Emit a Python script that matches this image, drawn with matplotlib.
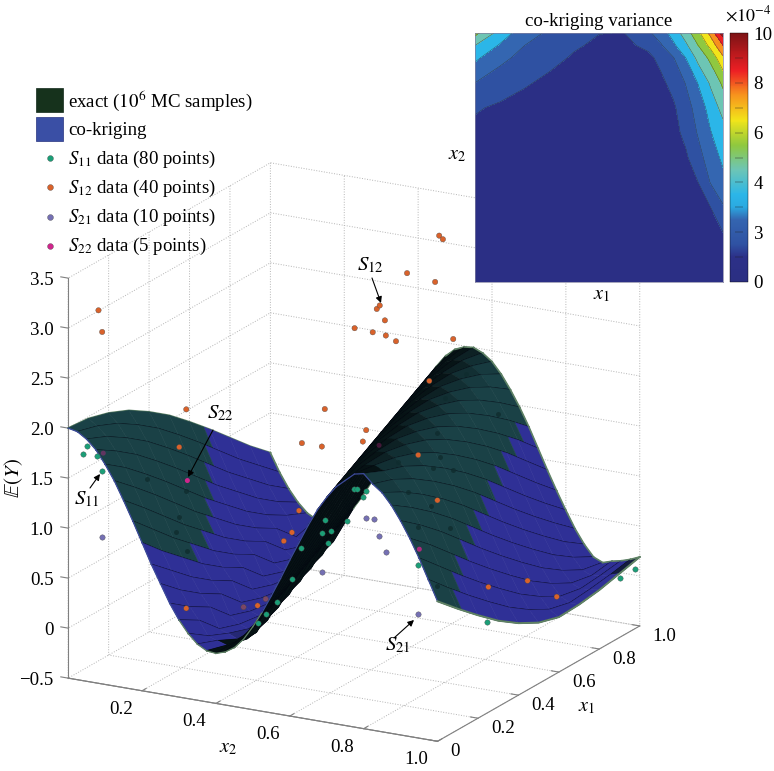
import numpy as np
import matplotlib
matplotlib.use("Agg")
import matplotlib.pyplot as plt
from matplotlib.colors import LinearSegmentedColormap, Normalize, to_rgb, to_rgba
from matplotlib.cm import ScalarMappable
from matplotlib.patches import Rectangle
from matplotlib.ticker import NullFormatter
from mpl_toolkits.mplot3d import proj3d
from mpl_toolkits.mplot3d.art3d import Poly3DCollection

plt.rcParams['font.family'] = 'Liberation Serif'
plt.rcParams['mathtext.fontset'] = 'stix'
plt.rcParams['grid.color'] = '#b4b4b4'
plt.rcParams['grid.linestyle'] = ':'
plt.rcParams['grid.linewidth'] = 0.7

# surface E(Y), rows are x2 = 0 ... 1, columns are x1 = 0 ... 1
x1_grid = np.linspace(0, 1, 11)
x2_grid = np.linspace(0, 1, 41)
z_surface = np.array([
    [2.00, 1.98, 1.92, 1.83, 1.70, 1.55, 1.37, 1.18, 0.98, 0.78, 0.60],
    [1.98, 1.92, 1.83, 1.70, 1.55, 1.37, 1.18, 0.98, 0.78, 0.60, 0.42],
    [1.92, 1.83, 1.70, 1.55, 1.37, 1.18, 0.98, 0.78, 0.60, 0.42, 0.27],
    [1.83, 1.70, 1.55, 1.37, 1.18, 0.98, 0.78, 0.60, 0.42, 0.27, 0.15],
    [1.70, 1.55, 1.37, 1.18, 0.98, 0.78, 0.60, 0.42, 0.27, 0.15, 0.06],
    [1.55, 1.37, 1.18, 0.98, 0.78, 0.60, 0.42, 0.27, 0.15, -0.05, 0.01],
    [1.37, 1.18, 0.98, 0.78, 0.60, 0.42, 0.27, 0.15, -0.05, -0.12, 0.00],
    [1.18, 0.98, 0.78, 0.60, 0.42, 0.27, 0.15, -0.05, -0.12, -0.15, 0.03],
    [0.98, 0.78, 0.60, 0.42, 0.27, 0.15, -0.05, -0.12, -0.15, -0.12, 0.09],
    [0.78, 0.60, 0.42, 0.27, 0.15, -0.05, -0.12, -0.15, -0.12, -0.03, 0.19],
    [0.60, 0.42, 0.27, 0.15, -0.05, -0.12, -0.15, -0.12, -0.03, 0.19, 0.33],
    [0.42, 0.27, 0.15, -0.05, -0.12, -0.15, -0.12, -0.03, 0.19, 0.33, 0.49],
    [0.27, 0.15, -0.05, -0.12, -0.15, -0.12, -0.03, 0.19, 0.33, 0.49, 0.67],
    [0.15, 0.01, -0.08, -0.15, -0.12, -0.03, 0.19, 0.33, 0.49, 0.67, 0.86],
    [0.06, -0.02, -0.12, -0.12, -0.03, 0.19, 0.33, 0.49, 0.67, 0.86, 1.06],
    [0.01, -0.05, -0.10, -0.03, 0.19, 0.33, 0.49, 0.67, 0.86, 1.06, 1.25],
    [0.00, 0.00, -0.02, 0.19, 0.33, 0.49, 0.67, 0.86, 1.06, 1.25, 1.44],
    [0.03, 0.09, 0.19, 0.33, 0.49, 0.67, 0.86, 1.06, 1.25, 1.44, 1.61],
    [0.09, 0.19, 0.33, 0.49, 0.67, 0.86, 1.06, 1.25, 1.44, 1.61, 1.75],
    [0.19, 0.33, 0.49, 0.67, 0.86, 1.06, 1.25, 1.44, 1.61, 1.75, 1.87],
    [0.33, 0.49, 0.67, 0.86, 1.06, 1.25, 1.44, 1.61, 1.75, 1.87, 1.95],
    [0.49, 0.67, 0.86, 1.06, 1.25, 1.44, 1.61, 1.75, 1.87, 1.95, 1.99],
    [0.67, 0.86, 1.06, 1.25, 1.44, 1.61, 1.75, 1.87, 1.95, 1.99, 2.00],
    [0.86, 1.06, 1.25, 1.44, 1.61, 1.75, 1.87, 1.95, 1.99, 2.00, 1.96],
    [1.06, 1.25, 1.44, 1.61, 1.75, 1.87, 1.95, 1.99, 2.00, 1.96, 1.89],
    [1.25, 1.44, 1.61, 1.75, 1.87, 1.95, 1.99, 2.00, 1.96, 1.89, 1.78],
    [1.44, 1.61, 1.75, 1.87, 1.95, 1.99, 2.00, 1.96, 1.89, 1.78, 1.64],
    [1.61, 1.75, 1.87, 1.95, 1.99, 2.00, 1.96, 1.89, 1.78, 1.64, 1.48],
    [1.75, 1.87, 1.95, 1.99, 2.00, 1.96, 1.89, 1.78, 1.64, 1.48, 1.30],
    [1.87, 1.95, 1.99, 2.00, 1.96, 1.89, 1.78, 1.64, 1.48, 1.30, 1.10],
    [1.95, 1.99, 2.00, 1.96, 1.89, 1.78, 1.64, 1.48, 1.30, 1.10, 0.90],
    [2.03, 2.00, 1.96, 1.89, 1.78, 1.64, 1.48, 1.30, 1.10, 0.90, 0.71],
    [2.05, 1.96, 1.89, 1.78, 1.64, 1.48, 1.30, 1.10, 0.90, 0.71, 0.53],
    [1.96, 1.89, 1.78, 1.64, 1.48, 1.30, 1.10, 0.90, 0.71, 0.53, 0.36],
    [1.89, 1.78, 1.64, 1.48, 1.30, 1.10, 0.90, 0.71, 0.53, 0.36, 0.22],
    [1.78, 1.64, 1.48, 1.30, 1.10, 0.90, 0.71, 0.53, 0.36, 0.22, 0.11],
    [1.64, 1.48, 1.30, 1.10, 0.90, 0.71, 0.53, 0.36, 0.22, 0.11, 0.07],
    [1.48, 1.30, 1.10, 0.90, 0.71, 0.53, 0.36, 0.22, 0.11, 0.07, 0.10],
    [1.30, 1.10, 0.90, 0.71, 0.53, 0.36, 0.22, 0.11, 0.07, 0.09, 0.12],
    [1.10, 0.90, 0.71, 0.53, 0.36, 0.22, 0.11, 0.06, 0.08, 0.11, 0.15],
    [0.90, 0.71, 0.53, 0.36, 0.22, 0.11, 0.05, 0.06, 0.09, 0.14, 0.19],
])

# how far along x1 the exact surface shows through, one value per x2 strip
exact_on_top = [0.67, 0.63, 0.58, 0.54, 0.49, 0.45, 0.38, 0.28,
                0, 0, 0, 0, 0, 0, 0, 0, 0, 0, 0, 0,
                1, 1, 1, 1, 1, 1, 1, 1, 0.93, 0.85, 0.77, 0.69,
                0.61, 0.53, 0.45, 0.37, 0.29, 0.22, 0.16, 0.12]

# data points
s11_x1 = [0, 0, 0, 0, .5, .5, .5, .5, .5, .5, .5, .5, .5, .5, .5, .5, .5, .5, .5, .5, .9, 1]
s11_x2 = [.041, .052, .079, .092, .5, .508, .533, .524, .481, .421, .413, .4375, .429,
          .356, .332, .291, .261, .239, .674, .861, 1.0, .986]
s11_z = [1.77, 1.85, 1.77, 1.63, 1.13, 1.14, 1.13, 1.07, .80, .77, .64, .67, .55,
         .45, .12, -.13, -.27, -.375, .48, .03, .09, .06]

# S11 points that only show as dark spots through the surface
s11b_x1 = [.1, .5, .5, .5, .5, .5, .5, .5, .5, .5, .5, .5, .5, .5, .5, .5, .5, .5]
s11b_x2 = [.159, .046, .027, .019, .049, .802, .747, .889, .726, .734, .769, .715, .62,
           .647, .709, .761, .674, .726]
s11b_z = [1.48, .82, .55, .40, .23, 2.47, 2.20, 2.13, 1.83, 1.60, 1.49, 1.48, 1.48,
          1.19, 1.09, .91, .86, .30]

s12_x1 = [0, 0, 1, 1, 1, 1, 1, 1, 1, 1, 1, 1, 1, 1,
          .5, .5, .5, .5, .5, .5, .5, .5, .5, .5, .5, .5, .5, .5, .5, .5, .5, .5, .5, .9]
s12_x2 = [.082, .092, .457, .467, .37, .446, .296, .288, .31, .228, .277, .3125, .34, .495,
          .046, .421, .533, .524, .359, .413, .027, .351, .332, .31, .046, .239,
          .704, .674, .726, .864, .97, .201, .261, .83]
s12_z = [3.23, 3.02, 3.06, 3.03, 2.63, 2.59, 2.26, 2.22, 2.12, 1.99, 1.98, 1.97, 1.93, 2.05,
         1.64, 1.88, 1.74, 1.62, 1.50, 1.50, 1.25, .82, .59, .49, -.35, -.20,
         2.34, 1.58, 1.16, .38, .51, -.24, -.12, -.20]
s12_alpha = [1] * 31 + [.45, .45, 1]

s21_x1 = [0, .5, .5, .5, .5, .5, .5]
s21_x2 = [.092, .533, .554, .568, .587, .413, .674]
s21_z = [.97, .86, .86, .70, .56, .25, -.01]

s22_x1 = [.5, 0, .5, .5]
s22_x2 = [.049, .095, .568, .677]
s22_z = [.93, 1.81, 1.61, .64]
s22_alpha = [1, .4, .3, .8]

x2_ticks = [.2, .4, .6, .8, 1.0]
x1_ticks = [0, .2, .4, .6, .8, 1.0]
z_ticks = [-.5, 0, .5, 1, 1.5, 2, 2.5, 3, 3.5]
x2_labels = ['0.2', '0.4', '0.6', '0.8', '1.0']
x1_labels = ['0', '0.2', '0.4', '0.6', '0.8', '1.0']
z_labels = ['\u22120.5', '0', '0.5', '1.0', '1.5', '2.0', '2.5', '3.0', '3.5']

# inset, variance in units of 1e-4
var_u = [0, .1, .2, .3, .4, .5, .6, .7, .75, .8, .85, .9, .95, 1]
var_v = [0, .2, .3, .4, .5, .6, .7, .8, .9, .95, 1]
variance = np.array([
    [.2, .2, .15, .1, .1, .05, .05, .1, .1, .15, .2, .25, .4, .6],
    [.25, .2, .2, .15, .1, .1, .1, .1, .15, .2, .3, .45, .7, 1.0],
    [.3, .3, .25, .2, .15, .1, .1, .15, .2, .3, .45, .7, 1.0, 1.9],
    [.4, .35, .3, .25, .2, .15, .15, .2, .25, .4, .6, 1.0, 2.05, 2.7],
    [.5, .45, .4, .3, .25, .2, .2, .25, .35, .55, .85, 1.65, 2.5, 3.2],
    [.75, .6, .5, .4, .3, .25, .25, .3, .45, .7, 1.25, 2.1, 2.95, 3.6],
    [1.1, .85, .65, .5, .4, .3, .3, .4, .55, .85, 1.6, 2.4, 3.4, 4.35],
    [2.0, 1.5, 1.1, .8, .6, .5, .4, .55, .8, 1.3, 2.05, 3.05, 4.15, 5.2],
    [3.2, 2.25, 1.7, 1.25, .9, .7, .6, .8, 1.25, 1.95, 3.0, 4.3, 5.25, 6.8],
    [4.0, 2.9, 2.0, 1.55, 1.1, .85, .8, 1.2, 1.9, 2.8, 3.8, 5.0, 6.3, 8.0],
    [5.3, 3.6, 2.4, 1.85, 1.4, 1.02, .98, 1.85, 2.5, 3.4, 4.5, 5.75, 7.3, 9.5],
])
var_levels = [0, 1, 2, 3, 4, 5, 6, 7, 8, 9, 10]
cbar_ticks = [0, 2, 4, 6, 8, 10]
cbar_labels = ['0', '3', '4', '6', '8', '10']

legend_labels = [r'exact ($10^{6}$ MC samples)', 'co-kriging',
                 r'$S_{11}$ data (80 points)', r'$S_{12}$ data (40 points)',
                 r'$S_{21}$ data (10 points)', r'$S_{22}$ data (5 points)']
c_s11, c_s12, c_s21, c_s22 = '#1b9e77', '#d9622b', '#7570b3', '#d0258c'

blue = np.array(to_rgb('#2f3096'))
green = np.array(to_rgb('#1a4146'))
under = np.array(to_rgb('#061214'))
rim = '#5f8265'
font_size = 13.6

fig = plt.figure(figsize=(7.74, 7.71), dpi=100)
fig.patch.set_facecolor('white')

ax = fig.add_axes([-9.6 / 774, -44.6 / 771, 708 / 774, 708 / 771], projection='3d',
                  computed_zorder=False, proj_type='ortho')
elev, azim = 18.2, -61.3
ax.view_init(elev=elev, azim=azim)
ax.set_box_aspect((1, 1, 1))
ax.set_xlim(0, 1, view_margin=0)
ax.set_ylim(0, 1, view_margin=0)
ax.set_zlim(-.5, 3.5, view_margin=0)
ax.patch.set_alpha(0)

ax.set_xticks(x2_ticks)
ax.set_yticks(x1_ticks)
ax.set_zticks(z_ticks)
ax.zaxis._axinfo['juggled'] = (1, 0, 2)
for axis in (ax.xaxis, ax.yaxis, ax.zaxis):
    axis.set_major_formatter(NullFormatter())
    axis.set_pane_color((1, 1, 1, 0))
    axis.pane.set_edgecolor((1, 1, 1, 0))
    axis.line.set_color('#808080')
    axis.line.set_linewidth(0.8)
    axis._axinfo['tick']['inward_factor'] = 0
    axis._axinfo['tick']['outward_factor'] = 0.25
ax.tick_params(color='#808080', width=0.6)
ax.plot([0, 0], [0, 0], [-.5, 3.5], color='#808080', lw=0.8, zorder=-1)

# Camera direction, a cell seen from below shows the dark underside
cam = np.array([np.cos(np.radians(elev)) * np.cos(np.radians(azim)),
                np.cos(np.radians(elev)) * np.sin(np.radians(azim)),
                np.sin(np.radians(elev))])
dx2 = x2_grid[1] - x2_grid[0]
dx1 = x1_grid[1] - x1_grid[0]

# Rays through the surface run monotonic in x2, so painting the strips in x2 order hides correctly
ax.plot(x2_grid[0] * np.ones(11), x1_grid, z_surface[0], color=rim, lw=1.4, zorder=0)
for k in range(len(x2_grid) - 1):
    verts = []
    colors = []
    limit = exact_on_top[k]
    for j in range(len(x1_grid) - 1):
        a, b = x1_grid[j], x1_grid[j + 1]
        z00, z01 = z_surface[k, j], z_surface[k, j + 1]
        z10, z11 = z_surface[k + 1, j], z_surface[k + 1, j + 1]
        slope_x2 = (z10 + z11 - z00 - z01) / (2 * dx2)
        slope_x1 = (z01 + z11 - z00 - z10) / (2 * dx1)
        facing = -slope_x2 * cam[0] - slope_x1 * cam[1] + cam[2]
        # faces near the right ridge darken, the mesh packs tight there
        near_ridge = k >= 20 and (z00 + z01 + z10 + z11) / 4 > 1.2
        fade = np.clip(facing / (1.4 if near_ridge else 0.15), 0, 1)
        # a cell crossed by the exact/co-kriging boundary is cut in two
        cuts = [(a, b, limit >= b - 1e-6)]
        if a < limit < b:
            cuts = [(a, limit, True), (limit, b, False)]
        for p, q, on_top in cuts:
            tp, tq = (p - a) / dx1, (q - a) / dx1
            verts.append([(x2_grid[k], p, z00 + tp * (z01 - z00)),
                          (x2_grid[k], q, z00 + tq * (z01 - z00)),
                          (x2_grid[k + 1], q, z10 + tq * (z11 - z10)),
                          (x2_grid[k + 1], p, z10 + tp * (z11 - z10))])
            base = green if on_top else blue
            colors.append(tuple(under * (1 - fade) + base * fade))
    strip = Poly3DCollection(verts, facecolors=colors, edgecolors=colors, linewidths=0.4, zorder=k + 1)
    ax.add_collection3d(strip)
    ax.plot(x2_grid[k + 1] * np.ones(11), x1_grid, z_surface[k + 1], color='#03030f', lw=0.9, zorder=k + 1.3)
    edge_front = rim if 12 <= k <= 20 else '#3c4a9a'
    ax.plot(x2_grid[k:k + 2], [0, 0], z_surface[k:k + 2, 0], color=edge_front, lw=0.9, zorder=k + 1.5)
    ax.plot(x2_grid[k:k + 2], [1, 1], z_surface[k:k + 2, 10], color=rim, lw=1.2, zorder=k + 1.5)
ax.plot(x2_grid[-1] * np.ones(11), x1_grid, z_surface[-1], color=rim, lw=1.4, zorder=60)

ax.scatter(s11b_x2, s11b_x1, s11b_z, s=13, c='#0f2c2e', alpha=0.8, linewidths=0, depthshade=False, zorder=90)
ax.scatter(s11_x2, s11_x1, s11_z, s=15, c=c_s11, edgecolors='#444444', linewidths=0.25, depthshade=False, zorder=100)
ax.scatter(s12_x2, s12_x1, s12_z, s=15, c=[to_rgba(c_s12, a) for a in s12_alpha], edgecolors='#444444',
           linewidths=0.25, depthshade=False, zorder=100)
ax.scatter(s21_x2, s21_x1, s21_z, s=15, c=c_s21, edgecolors='#444444', linewidths=0.25, depthshade=False, zorder=100)
ax.scatter(s22_x2, s22_x1, s22_z, s=13, c=[to_rgba(c_s22, a) for a in s22_alpha], edgecolors='none',
           linewidths=0, depthshade=False, zorder=100)


def box_text(x, y, z, label, **kwargs):
    # tick labels sit just off the box, placed through the 3D projection
    px, py, _ = proj3d.proj_transform(x, y, z, ax.get_proj())
    ax.text2D(px, py, label, transform=ax.transData, va='center', fontsize=font_size, zorder=120, **kwargs)


for v, t in zip(x2_ticks, x2_labels):
    box_text(v + .005, -.115, -.55, t, ha='center')
for v, t in zip(x1_ticks, x1_labels):
    box_text(1.035, v, -.58, t, ha='left')
for v, t in zip(z_ticks, z_labels):
    box_text(-.04, 0, v - .05, t, ha='right')

# overlay in figure pixels for legend, labels and callouts
over = fig.add_axes([0, 0, 1, 1])
over.set_xlim(0, 774)
over.set_ylim(771, 0)
over.axis('off')

over.add_patch(Rectangle((36, 88), 27, 24, facecolor='#16321c', edgecolor='#10281a', lw=0.5))
over.add_patch(Rectangle((36, 117), 27, 24, facecolor='#3a4fa5', edgecolor='#26327f', lw=0.5))
for y, c in zip([158, 187, 217, 246], [c_s11, c_s12, c_s21, c_s22]):
    over.plot([50], [y], 'o', ms=4.2, color=c, mec='#444444', mew=0.25)
for y, t in zip([107, 135, 164, 193, 222, 251], legend_labels):
    over.text(68, y, t, fontsize=font_size, ha='left', va='baseline')

over.text(228, 748, r'$x_2$', fontsize=font_size + 1, ha='center', va='center')
over.text(587, 707, r'$x_1$', fontsize=font_size + 1, ha='center', va='center')
over.text(14, 478, r'$\mathbb{E}(Y)$', fontsize=font_size + 1.5, rotation=90, ha='center', va='center')
over.text(602, 295, r'$x_1$', fontsize=font_size + 1, ha='center', va='center')
over.text(457, 155, r'$x_2$', fontsize=font_size + 1, ha='center', va='center')
over.text(748, 15, r'$\times 10^{-4}$', fontsize=13, ha='center', va='center')

callouts = [(r'$S_{12}$', (370, 265), (372, 278), (381, 303)),
            (r'$S_{22}$', (220, 413), (213, 430), (188, 477)),
            (r'$S_{11}$', (87, 499), (90, 488), (100, 474)),
            (r'$S_{21}$', (398, 645), (394, 638), (414, 620))]
for name, text_at, tail, head in callouts:
    over.text(*text_at, name, fontsize=font_size + 1.5, ha='center', va='center')
    over.annotate('', xy=head, xytext=tail,
                  arrowprops=dict(arrowstyle='-|>', color='black', lw=0.8, mutation_scale=9,
                                  shrinkA=0, shrinkB=0))

# inset
var_cmap = LinearSegmentedColormap.from_list('var', [
    (0, '#2b2f82'), (.1, '#2c3088'), (.15, '#2f52a3'), (.25, '#3465b0'), (.3, '#2ba9e1'),
    (.35, '#2bb6e8'), (.45, '#6dc5b5'), (.55, '#8fc83f'), (.65, '#f2e51a'), (.75, '#f7941d'),
    (.85, '#ed1f24'), (1, '#7d1315')])
ins = fig.add_axes([475 / 774, 1 - 282 / 771, 248 / 774, 249 / 771])
ins.contourf(var_u, var_v, variance, levels=var_levels, cmap=var_cmap, vmin=0, vmax=10)
ins.contour(var_u, var_v, variance, levels=var_levels[1:-1], colors='#333333', linewidths=0.25)
ins.set_xticks([])
ins.set_yticks([])
ins.set_title('co-kriging variance', fontsize=font_size, pad=5)
for s in ins.spines.values():
    s.set_linewidth(0.5)
    s.set_color('#7f7f9f')

cax = fig.add_axes([730 / 774, 1 - 282 / 771, 18 / 774, 249 / 771])
cbar = fig.colorbar(ScalarMappable(Normalize(0, 10), var_cmap), cax=cax, ticks=cbar_ticks)
cbar.ax.set_yticklabels(cbar_labels, fontsize=font_size)
cbar.ax.tick_params(length=0, pad=4)
cbar.outline.set_linewidth(0.3)
cax.hlines(var_levels[1:-1], 0.3, 0.7, colors='#222222', linewidths=0.3, transform=cax.get_yaxis_transform())

fig.savefig('out.png', dpi=100, facecolor='white')
